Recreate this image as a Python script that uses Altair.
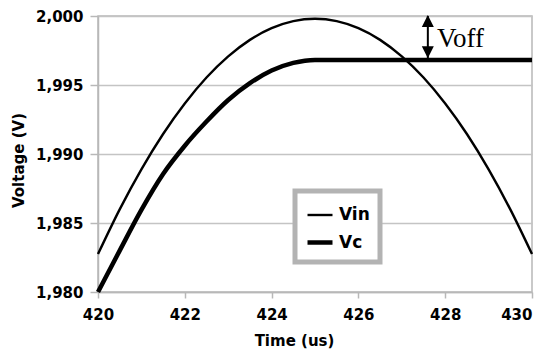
import altair as alt
import pandas as pd

# ---- data ----
time_vin = [420.0, 420.5, 421.0, 421.5, 422.0, 422.5, 423.0, 423.5, 424.0, 424.5, 425.0,
            425.5, 426.0, 426.5, 427.0, 427.5, 428.0, 428.5, 429.0, 429.5, 430.0]
vin = [1.98275, 1.98599, 1.98889, 1.99145, 1.99366, 1.99554, 1.99707, 1.99827, 1.99912, 1.99963, 1.99980,
       1.99963, 1.99912, 1.99827, 1.99707, 1.99554, 1.99366, 1.99145, 1.98889, 1.98599, 1.98275]

time_vc = [420.0, 420.5, 421.0, 421.5, 422.0, 422.5, 423.0, 423.5, 424.0, 424.5, 425.0,
           425.5, 426.0, 426.5, 427.0, 427.5, 428.0, 428.5, 429.0, 429.5, 430.0]
vc = [1.98000, 1.98300, 1.98595, 1.98855, 1.99060, 1.99235, 1.99391, 1.99513, 1.99605, 1.99660, 1.99682,
      1.99682, 1.99682, 1.99682, 1.99682, 1.99682, 1.99682, 1.99682, 1.99682, 1.99682, 1.99682]

series_names = ["Vin", "Vc"]
x_ticks = [420, 422, 424, 426, 428, 430]
y_ticks = [1.980, 1.985, 1.990, 1.995, 2.000]

# Voff annotation
voff_x = [427.6]
voff_top = [2.000]
voff_bottom = [1.99682]
voff_label = ["Voff"]
voff_label_x = [427.81]
voff_label_y = [1.99778]

df = pd.concat([
    pd.DataFrame({"t": time_vin, "v": vin, "series": "Vin"}),
    pd.DataFrame({"t": time_vc, "v": vc, "series": "Vc"}),
])

xs = alt.Scale(domain=[420, 430], nice=False, zero=False)
ys = alt.Scale(domain=[1.980, 2.000], nice=False, zero=False)

lines = alt.Chart(df).mark_line(interpolate="monotone").encode(
    x=alt.X("t:Q", scale=xs, title="Time (us)",
            axis=alt.Axis(values=x_ticks, grid=False, titleX=196, titleY=48,
                          titleBaseline="middle", titleAlign="center",
                          tickSize=6, labelPadding=9, labelFlush=False,
                          labelAlign={"expr": "datum.value >= 430 ? 'right' : 'center'"})),
    y=alt.Y("v:Q", scale=ys, title="Voltage (V)",
            axis=alt.Axis(values=y_ticks, grid=True, tickSize=8, labelPadding=7,
                          labelFlush=False,
                          labelExpr="replace(format(datum.value, '.3f'), '.', ',')",
                          titleX=-80, titleY=144, titleAngle=-90,
                          titleBaseline="middle", titleAlign="center")),
    color=alt.Color("series:N", scale=alt.Scale(domain=series_names, range=["black", "black"]),
                    legend=alt.Legend(title=None)),
    strokeWidth=alt.StrokeWidth("series:N", scale=alt.Scale(domain=series_names, range=[2.4, 4.5]),
                                legend=alt.Legend(title=None)),
)

ann_df = pd.DataFrame({"x": voff_x, "top": voff_top, "bottom": voff_bottom})

shaft = alt.Chart(ann_df).mark_rule(color="black", strokeWidth=2).encode(
    x=alt.X("x:Q", scale=xs), y=alt.Y("top:Q", scale=ys), y2="bottom:Q")

up_head = alt.Chart(pd.DataFrame({"x": voff_x, "y": [1.99964]})).mark_point(
    shape="M0,-1L1,1L-1,1Z", filled=True, color="black", size=144, opacity=1).encode(
    x=alt.X("x:Q", scale=xs), y=alt.Y("y:Q", scale=ys))

down_head = alt.Chart(pd.DataFrame({"x": voff_x, "y": [1.99737]})).mark_point(
    shape="M0,1L1,-1L-1,-1Z", filled=True, color="black", size=144, opacity=1).encode(
    x=alt.X("x:Q", scale=xs), y=alt.Y("y:Q", scale=ys))

label = alt.Chart(pd.DataFrame({"x": voff_label_x, "y": voff_label_y, "txt": voff_label})).mark_text(
    font="Liberation Serif", fontSize=27, align="left", baseline="alphabetic", color="black").encode(
    x=alt.X("x:Q", scale=xs), y=alt.Y("y:Q", scale=ys), text="txt:N")

chart = alt.layer(lines, shaft, up_head, down_head, label).properties(
    width=434, height=276,
    autosize=alt.AutoSizeParams(type="none"),
    padding={"left": 90, "top": 8, "right": 10, "bottom": 60},
).configure_view(
    stroke="#b8b8b8", strokeWidth=1.5
).configure_axis(
    labelFont="DejaVu Sans", labelFontWeight="bold", labelFontSize=15, labelColor="black",
    titleFont="DejaVu Sans", titleFontWeight="bold", titleFontSize=15, titleColor="black",
    gridColor="#c4c4c4", gridWidth=1.5, domainColor="#b8b8b8", domainWidth=1.5,
    tickColor="#b8b8b8", tickWidth=1.5,
).configure_legend(
    orient="none", legendX=197, legendY=175,
    strokeColor="#b3b3b3", strokeWidth=5, fillColor="white", padding=10,
    symbolType="stroke", symbolSize=625, labelFont="DejaVu Sans", labelFontWeight="bold",
    labelFontSize=17, labelColor="black", rowPadding=4.5, labelOffset=4, cornerRadius=0,
)

chart.save("out.html", embed_options={"renderer": "svg", "actions": False})
